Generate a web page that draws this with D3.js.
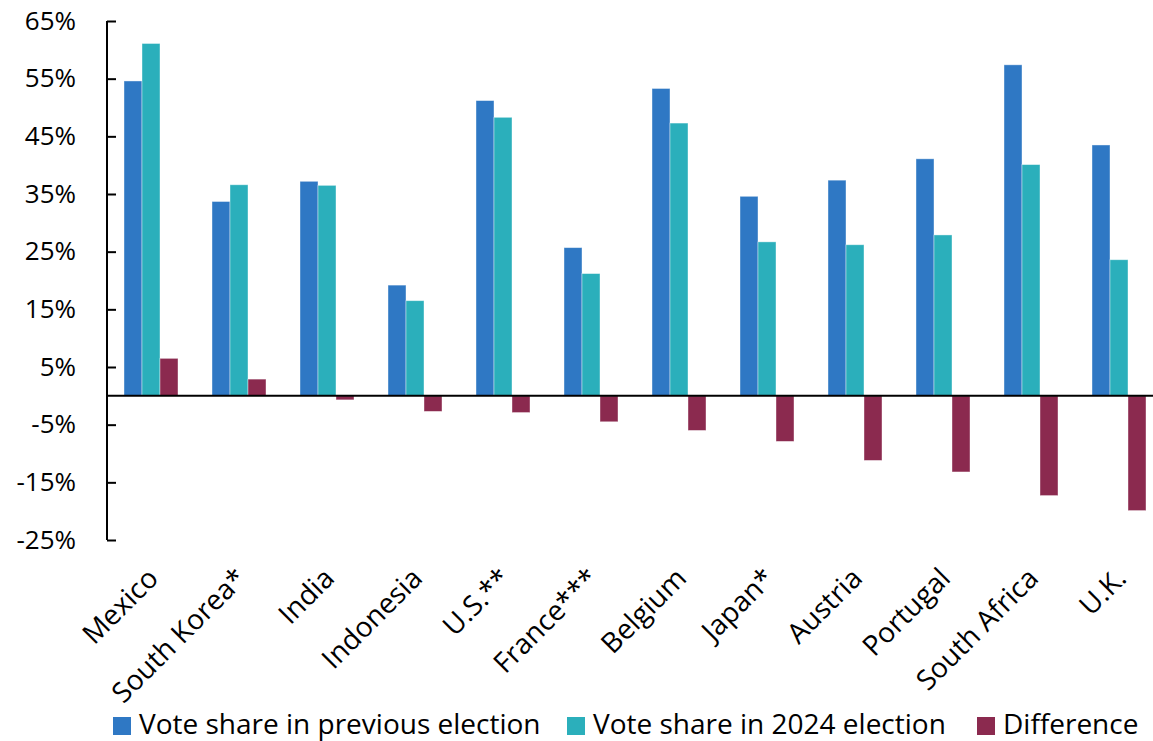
<!DOCTYPE html>
<html>
<head>
<meta charset="utf-8">
<script src="https://cdn.jsdelivr.net/npm/d3@7"></script>
<style>
  body { margin: 0; background: #fff; }
  svg { display: block; font-family: "Open Sans", "Lato", sans-serif; }
</style>
</head>
<body>
<svg id="chart" width="1153" height="741"></svg>
<script>
// data
const countries = ["Mexico", "South Korea*", "India", "Indonesia", "U.S.**", "France***",
  "Belgium", "Japan*", "Austria", "Portugal", "South Africa", "U.K."]
const prevShare = [54.6, 33.7, 37.2, 19.2, 51.2, 25.7, 53.3, 34.6, 37.4, 41.1, 57.4, 43.5]
const share2024 = [61.1, 36.6, 36.5, 16.5, 48.3, 21.2, 47.3, 26.7, 26.2, 27.9, 40.1, 23.6]
const diff = [6.5, 2.9, -0.7, -2.7, -2.9, -4.5, -6.0, -7.9, -11.2, -13.2, -17.3, -19.9]
const yTicks = [-25, -15, -5, 5, 15, 25, 35, 45, 55, 65]

const seriesNames = ["Vote share in previous election", "Vote share in 2024 election", "Difference"]
const colors = ["#2f78c4", "#2bafbb", "#8b2a4f"]

const svg = d3.select("#chart")

let x = d3.scaleBand()
  .domain(countries)
  .range([107, 1163])
  .paddingInner(34 / 88)
  .paddingOuter(17 / 88)

let x1 = d3.scaleBand()
  .domain([0, 1, 2])
  .range([0, x.bandwidth()])

let y = d3.scaleLinear()
  .domain([-25, 65])
  .range([540, 21])

const rows = countries.map((c, i) => ({c: c, v: [prevShare[i], share2024[i], diff[i]]}))

// bars
let groups = svg.append("g").selectAll("g")
  .data(rows)
  .join("g")
  .attr("transform", d => "translate(" + x(d.c) + ",0)")

groups.selectAll("rect")
  .data(d => d.v.map((v, k) => ({k: k, v: v})))
  .join("rect")
  .attr("x", d => x1(d.k))
  .attr("width", x1.bandwidth())
  .attr("y", d => y(Math.max(0, d.v)))
  .attr("height", d => Math.abs(y(d.v) - y(0)))
  .attr("fill", d => colors[d.k])
  .attr("stroke", "#ffffff")
  .attr("stroke-opacity", 0.5)
  .attr("stroke-width", 0.8)

// y axis
let yAxis = svg.append("g")
  .attr("transform", "translate(107,0)")
  .call(d3.axisLeft(y).tickValues(yTicks).tickSize(-9).tickPadding(31).tickFormat(d => d + "%"))

yAxis.select(".domain").attr("stroke", "#000").attr("stroke-width", 2)
  .attr("d", "M0," + y(65) + "V" + y(-25))
yAxis.selectAll(".tick line").attr("stroke", "#000").attr("stroke-width", 2)
yAxis.selectAll("text")
  .attr("font-size", 26)
  .attr("fill", "#000")
  .attr("font-family", "'Open Sans', Lato, sans-serif")

// zero line
svg.append("line")
  .attr("x1", 107).attr("x2", 1163)
  .attr("y1", y(0)).attr("y2", y(0))
  .attr("stroke", "#000")
  .attr("stroke-width", 2)

// category labels, rotated
svg.append("g").selectAll("text")
  .data(countries)
  .join("text")
  .attr("transform", d => "translate(" + (x(d) + x.bandwidth() / 2 + 9) + ",580) rotate(-45)")
  .attr("text-anchor", "end")
  .attr("font-size", 28)
  .attr("fill", "#000")
  .text(d => d)

// legend
const legendX = [113, 567, 977]
let legend = svg.append("g").selectAll("g")
  .data(seriesNames)
  .join("g")
  .attr("transform", (d, i) => "translate(" + legendX[i] + ",734)")

legend.append("rect")
  .attr("x", 0).attr("y", -17)
  .attr("width", 18).attr("height", 18)
  .attr("fill", (d, i) => colors[i])

legend.append("text")
  .attr("x", 26).attr("y", 0)
  .attr("font-size", 28)
  .attr("textLength", null)
  .attr("fill", "#000")
  .text(d => d)
</script>
</body>
</html>
